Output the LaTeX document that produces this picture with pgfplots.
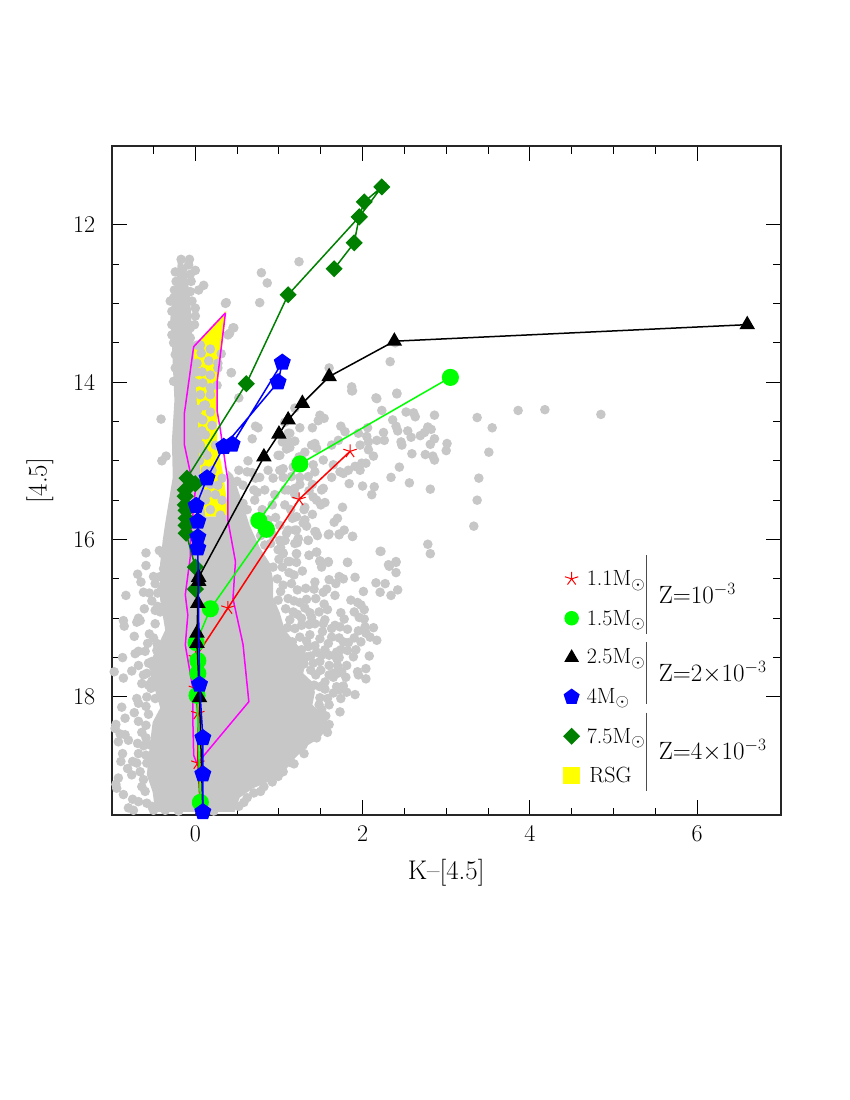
\documentclass[border=0pt]{standalone}
\usepackage{fontspec}
\usepackage{pgfplots}
\pgfplotsset{compat=1.18}
\definecolor{gc}{RGB}{199,199,199}
\definecolor{dg}{RGB}{0,128,0}
\definecolor{mag}{RGB}{255,0,255}
\definecolor{yel}{RGB}{255,255,0}
\definecolor{grn}{RGB}{0,255,0}
\definecolor{blu}{RGB}{0,0,255}
\definecolor{rd}{RGB}{255,0,0}
\newcommand{\fs}{\fontsize{22}{26}\selectfont}
\newcommand{\fz}{\fontsize{25}{29}\selectfont}
\newcommand{\ft}{\fontsize{24}{28}\selectfont\addfontfeatures{LetterSpace=3}}
\newcommand{\fl}{\fontsize{27}{31}\selectfont\addfontfeatures{LetterSpace=13}}
\DeclareMathSizes{22}{22}{16}{12}
\DeclareMathSizes{25}{25}{18}{13}
\pgfplotstableread{
x y
1.88 14.11
2.17 14.21
2.41 14.14
2.23 14.36
2.52 14.38
2.61 14.39
2.63 14.44
2.86 14.42
3.37 14.45
3.86 14.36
4.18 14.35
4.85 14.41
3.55 14.58
2.36 14.48
2.40 14.56
2.42 14.62
2.54 14.62
2.58 14.70
2.69 14.68
2.74 14.64
2.78 14.57
2.82 14.60
2.86 14.72
2.81 14.79
3.01 14.78
3.00 14.87
3.51 14.89
2.59 14.91
2.75 14.92
2.84 14.94
2.86 14.99
2.44 15.08
2.34 15.21
2.56 15.28
3.39 15.22
2.81 15.36
3.37 15.50
3.33 15.83
2.78 16.06
2.81 16.18
2.22 16.15
2.40 16.28
2.31 16.32
1.82 16.29
2.14 15.33
2.11 15.43
2.00 15.32
1.84 15.29
1.76 15.59
1.70 15.73
1.66 15.78
1.88 15.96
1.78 15.88
1.72 15.93
1.60 15.93
1.46 15.95
1.43 15.90
1.35 16.01
1.45 16.16
1.36 16.20
1.49 14.42
1.54 14.46
1.47 14.49
1.25 14.58
1.40 14.58
1.74 14.56
1.79 14.63
1.13 14.65
1.19 14.75
2.06 14.58
1.95 14.65
2.05 14.69
2.07 14.76
2.17 14.74
2.25 14.64
2.26 14.74
2.46 14.76
2.47 14.80
1.43 14.78
1.39 14.80
1.45 14.84
1.63 14.80
1.71 14.74
1.97 14.80
2.07 14.86
2.13 14.94
1.53 14.99
1.31 14.89
1.99 15.03
2.04 15.03
1.91 15.07
1.97 15.12
1.83 15.12
1.77 15.16
1.73 15.14
1.63 15.21
1.65 15.05
1.41 15.05
1.43 15.14
1.25 15.21
1.53 15.35
1.51 15.37
1.41 15.46
1.45 15.50
1.55 15.53
1.50 15.56
1.31 15.59
1.21 15.71
1.29 15.79
1.33 15.83
1.21 15.88
1.11 15.88
1.23 15.99
1.19 16.05
1.07 16.01
1.21 16.18
1.05 16.17
1.13 16.28
1.49 16.27
1.59 16.28
1.09 14.85
1.13 14.83
1.01 14.93
1.05 15.10
1.19 15.35
1.11 15.37
1.35 16.01
1.44 15.90
1.59 15.94
1.72 15.94
1.88 15.96
2.21 16.15
1.36 16.20
1.45 16.16
1.49 16.28
1.59 16.29
1.51 16.35
1.82 16.29
2.32 16.34
2.40 16.29
2.40 16.42
1.43 16.54
1.60 16.51
1.68 16.56
1.72 16.47
1.77 16.50
1.91 16.48
2.16 16.55
2.27 16.56
2.21 16.67
2.34 16.71
2.42 16.64
2.01 16.66
1.67 16.71
1.57 16.63
1.53 16.67
1.44 16.75
1.33 16.76
1.25 16.80
1.31 16.87
1.54 16.82
1.58 16.89
1.48 16.92
1.37 16.93
1.86 16.77
1.94 16.80
1.98 16.83
2.02 16.89
1.90 16.92
1.74 16.93
1.78 17.01
1.96 16.99
2.02 17.01
1.55 17.02
1.39 16.99
1.43 17.07
1.27 17.00
1.17 16.92
1.13 17.02
1.27 17.09
1.67 17.09
1.63 17.13
1.73 17.11
1.82 17.14
1.53 17.07
1.52 17.17
2.03 17.11
2.13 17.12
1.95 17.16
2.04 17.19
2.09 17.24
2.17 17.28
1.63 17.24
1.37 17.21
1.77 17.30
1.83 17.31
1.49 17.26
1.59 17.32
1.82 17.41
1.69 17.43
1.69 17.51
1.89 17.49
2.08 17.48
1.60 17.60
1.70 17.60
1.81 17.60
2.04 17.64
1.94 17.68
1.65 17.70
1.35 17.36
1.45 17.43
1.51 17.47
1.33 17.49
1.25 17.53
1.41 17.57
1.49 17.55
1.05 17.26
1.19 17.13
1.25 17.24
1.15 16.56
1.05 16.58
1.21 16.18
1.04 16.35
1.11 16.28
1.21 16.29
1.22 16.64
1.11 16.75
0.99 16.77
1.09 15.92
1.23 15.99
1.22 16.04
1.07 16.01
1.01 16.01
1.05 16.18
0.93 16.35
1.65 17.75
2.04 17.77
1.95 17.72
1.69 17.87
1.77 17.86
1.72 17.91
1.81 17.94
1.91 17.97
1.74 18.02
1.49 17.87
1.55 17.81
1.58 18.02
1.49 18.01
1.60 18.10
1.73 18.19
1.56 18.24
1.51 18.16
1.60 18.35
1.58 18.45
1.45 18.52
1.47 18.31
0.82 19.14
0.62 19.28
1.13 18.83
0.99 19.01
1.29 18.61
-0.33 16.01
-0.59 16.17
-0.43 16.14
-0.39 16.18
-0.59 16.33
-0.69 16.44
-0.65 16.54
-0.50 16.47
-0.42 16.47
-0.48 16.56
-0.36 16.30
-0.38 16.37
-0.83 16.71
-0.62 16.67
-0.55 16.68
-0.45 16.68
-0.61 16.88
-0.48 16.90
-0.86 17.03
-0.85 17.10
-0.68 17.00
-0.66 17.03
-0.70 17.05
-0.48 17.07
-0.73 17.23
-0.57 17.32
-0.46 17.32
-0.68 17.42
-0.72 17.45
-0.46 17.41
-0.87 17.50
-0.68 17.60
-0.97 17.68
-0.76 17.67
-0.56 17.57
-0.52 17.55
-0.50 17.62
-0.42 17.47
-0.86 17.76
-0.64 17.83
-0.56 17.85
-0.53 17.89
-0.70 18.02
-0.68 18.08
-0.58 18.00
-0.88 18.13
-0.73 18.20
-0.59 18.12
-0.84 18.27
-0.68 18.31
-0.59 18.36
-0.95 18.35
-0.96 18.40
-0.90 18.47
-0.84 18.48
-0.92 18.57
-0.80 18.55
-0.69 18.59
-0.59 18.52
-0.54 18.61
-0.87 18.72
-0.89 18.82
-0.75 18.82
-0.70 18.84
-0.59 18.74
-0.58 18.84
-0.81 18.91
-0.76 18.99
-0.92 19.03
-0.95 19.11
-0.94 19.16
-0.86 19.24
-0.64 19.14
-0.60 19.20
-0.75 19.30
-0.68 19.33
-0.80 19.41
-0.74 19.44
-0.50 19.44
-0.52 19.39
-0.36 19.44
-0.20 19.45
-0.26 19.37
0.16 19.41
0.22 19.45
0.26 19.29
0.40 19.35
0.52 19.39
0.50 19.20
-0.17 12.44
-0.07 12.44
-0.08 12.51
0.00 12.58
-0.24 12.60
-0.15 12.57
-0.06 12.63
-0.05 12.72
-0.23 12.72
-0.16 12.76
-0.25 12.83
0.10 12.77
0.04 12.83
-0.06 12.85
-0.30 12.97
-0.26 12.93
-0.04 12.97
0.00 13.06
0.00 13.16
-0.01 13.27
-0.06 13.31
-0.28 13.10
-0.28 13.27
-0.28 13.40
-0.06 13.44
-0.26 13.50
-0.24 13.65
-0.24 13.82
-0.26 13.99
0.36 13.00
0.46 13.31
0.41 13.38
0.43 13.88
0.02 13.53
0.06 13.53
0.18 13.58
0.07 13.63
0.16 13.73
0.02 13.76
0.27 13.76
0.31 13.64
0.27 13.82
0.01 13.87
0.08 13.87
0.18 13.91
0.00 14.01
0.09 14.01
0.18 14.07
0.26 14.04
0.18 14.16
0.06 14.16
0.12 14.29
0.03 14.35
0.18 14.38
0.09 14.48
0.20 14.55
0.12 14.67
0.06 14.80
0.24 14.80
0.14 14.93
0.20 15.12
0.12 15.12
0.27 15.31
0.32 15.22
0.24 15.43
0.12 15.50
0.32 15.50
0.18 15.62
0.30 15.69
0.36 15.75
1.24 12.47
0.79 12.61
0.86 12.74
0.77 12.99
0.37 12.99
0.45 13.31
0.39 13.40
0.43 13.88
0.52 14.20
2.33 13.74
2.39 13.50
1.60 13.82
1.87 14.06
1.87 14.11
2.16 14.20
2.41 14.15
-0.41 14.47
-0.35 14.94
-0.40 15.00
0.72 14.56
0.75 14.58
0.68 14.72
0.63 15.00
0.52 15.12
0.62 15.14
0.68 15.15
0.72 15.22
0.50 15.26
0.57 15.31
0.70 15.37
0.74 15.40
0.47 15.46
0.57 15.54
1.07 14.51
1.19 14.33
1.11 14.65
1.04 14.76
1.13 14.76
1.10 14.84
0.99 14.93
0.87 15.12
1.01 15.12
0.77 15.21
0.93 15.22
1.05 15.21
0.83 15.37
0.95 15.43
1.07 15.37
0.71 15.50
0.80 15.62
0.92 15.56
1.07 15.56
1.19 15.43
0.87 15.75
1.01 15.82
1.16 15.73
0.80 15.88
0.92 15.94
1.07 16.01
1.19 15.88
1.31 15.75
0.99 16.13
0.83 16.07
1.00 16.25
1.12 16.42
0.98 16.50
1.18 16.45
1.28 16.40
1.32 16.62
1.02 16.66
1.18 16.78
1.42 16.63
1.08 16.88
1.22 16.95
1.36 17.08
1.10 17.12
1.33 17.29
1.16 17.30
1.43 17.35
1.55 17.40
1.27 17.40
1.38 17.48
1.60 17.47
1.72 17.50
1.50 17.66
1.60 17.72
1.44 17.72
1.70 17.70
1.38 17.66
1.30 17.58
1.55 17.90
1.42 17.85
1.65 17.95
1.48 18.10
1.42 18.28
1.36 18.38
1.52 18.40
1.40 18.50
1.30 18.72
1.18 18.85
1.05 18.95
0.92 19.08
0.78 19.20
0.70 19.22
0.58 19.34
1.72 17.25
1.90 17.25
1.74 17.40
1.92 17.40
1.98 17.30
1.80 17.75
1.75 17.68
0.62 15.62
0.72 15.75
0.78 15.95
0.90 16.05
1.02 16.10
0.96 15.72
1.14 15.62
1.30 15.62
1.40 15.68
1.36 15.38
1.25 15.30
1.15 15.20
1.17 15.08
1.28 15.05
1.35 15.20
1.40 15.30
1.24 14.95
-0.45 16.85
-0.52 16.78
-0.42 16.92
-0.55 17.20
-0.50 17.25
-0.60 17.42
-0.58 17.70
-0.62 17.72
-0.52 17.80
-0.48 18.02
-0.56 18.22
-0.64 18.45
-0.62 18.62
-0.68 18.72
-0.66 18.95
-0.62 19.05
-0.58 19.35
-0.45 19.40
-0.40 19.30
0.05 19.45
0.35 19.25
-0.35 16.65
-0.33 16.75
-0.40 16.62
0.10 14.30
0.04 14.45
0.08 14.62
0.03 14.72
0.10 14.88
0.05 15.00
0.10 15.28
0.18 15.30
0.14 15.42
0.06 15.38
}\graydots
\begin{document}
\begin{tikzpicture}
\path[use as bounding box] (0,0) rectangle (850pt,1100pt);
\begin{axis}[
  at={(111.7pt,285pt)}, anchor=south west,
  scale only axis, width=669pt, height=669pt,
  xmin=-1, xmax=7, ymin=11, ymax=19.5, y dir=reverse,
  xtick={0,2,4,6}, ytick={12,14,16,18},
  minor x tick num=3, minor y tick num=3,
  extra x ticks={-0.5}, extra x tick labels={},
  extra x tick style={major tick length=7.5pt},
  tick align=inside, xtick pos=both, ytick pos=both,
  major tick length=15pt, minor tick length=7.5pt,
  tick style={black,line width=1pt},
  axis line style={line width=1.6pt,black!85},
  /pgf/number format/assume math mode=true,
  tick label style={font=\ft},
  xticklabel style={yshift=-7pt},
  yticklabel style={xshift=-13pt},
  xlabel={K--[4.5]}, ylabel={[4.5]},
  label style={font=\fl},
  xlabel style={yshift=-11pt},
  ylabel style={yshift=13pt},
  clip=false, clip mode=individual,
  every axis plot/.append style={line width=1.5pt},
]
% RSG area
\addplot[fill=yel,draw=yel] coordinates {(0.36,13.12)(-0.02,13.55)(0.02,14.5)(0.10,15.7)(0.39,15.7)(0.33,15.2)(0.25,14.77)(0.26,14.0)} -- cycle;
% dense part of the cloud
\addplot[fill=gc,draw=none] coordinates {
(-0.21,12.47)(-0.23,12.77)(-0.28,12.96)(-0.30,13.21)(-0.28,13.53)(-0.25,14.23)(-0.28,14.74)(-0.27,15.21)(-0.36,15.79)(-0.39,16.01)(-0.42,16.30)(-0.42,16.77)(-0.36,17.15)(-0.51,17.49)(-0.54,17.70)(-0.42,18.14)(-0.51,18.32)(-0.54,18.57)(-0.58,18.99)(-0.51,19.21)(-0.48,19.46)(0.47,19.46)(0.53,19.28)(0.69,19.16)(0.98,19.03)(1.10,18.90)(1.19,18.78)(1.35,18.61)(1.49,18.52)(1.61,18.35)(1.53,18.23)(1.40,18.10)(1.43,17.94)(1.40,17.81)(1.29,17.70)(1.34,17.49)(1.07,17.15)(1.01,16.93)(0.93,16.73)(0.93,16.51)(0.89,16.30)(0.77,16.10)(0.65,15.82)(0.57,15.56)(0.53,15.43)(0.45,15.18)(0.39,15.12)(0.39,15.71)(0.12,15.71)(0.06,15.24)(0.03,14.48)(-0.02,13.59)(-0.04,13.34)(-0.06,12.96)(-0.09,12.70)(-0.15,12.47)} -- cycle;
\addplot[only marks,mark=*,mark size=4pt,gc,mark options={draw=gc,fill=gc}] table {\graydots};
% magenta outline
\addplot[mag,no marks] coordinates {(0.36,13.12)(-0.02,13.55)(-0.13,14.39)(-0.13,14.80)(-0.06,15.15)(0.00,15.37)(-0.06,16.01)(-0.06,16.22)(-0.12,16.70)(-0.09,16.96)(-0.12,17.34)(-0.03,17.89)(-0.03,18.27)(-0.02,18.74)(0.02,18.85)(0.64,18.06)(0.57,17.33)(0.45,16.75)(0.48,16.28)(0.39,15.76)(0.39,15.25)(0.37,15.12)(0.30,14.61)(0.26,14.36)(0.26,14.0)(0.36,13.12)};
% 7.5 Msun
\addplot[dg,mark=square*,mark size=5.3pt,mark options={rotate=45,fill=dg,draw=dg}] coordinates {(1.66,12.56)(1.90,12.23)(1.96,11.90)(2.02,11.71)(2.23,11.52)(1.96,11.90)(1.11,12.89)(0.61,14.02)(-0.10,15.22)(0.00,15.29)(-0.12,15.37)(-0.12,15.45)(-0.12,15.56)(-0.11,15.63)(-0.11,15.73)(-0.11,15.82)(-0.11,15.92)(0.00,16.35)(0.00,16.63)};
% 1.1 Msun
\addplot[rd,mark=star,mark size=7pt,mark options={rd,line width=1pt}] coordinates {(1.85,14.88)(1.24,15.49)(0.39,16.87)(0.00,17.50)(0.00,17.89)(0.03,18.21)(0.03,18.84)(0.06,19.40)};
% 1.5 Msun
\addplot[grn,mark=*,mark size=7.8pt,mark options={fill=grn,draw=grn}] coordinates {(3.05,13.94)(1.25,15.04)(0.76,15.76)(0.85,15.87)(0.18,16.88)(0.01,17.31)(0.03,17.54)(0.03,17.70)(0.02,17.98)(0.06,19.34)};
% 2.5 Msun
\addplot[black,mark=triangle*,mark size=7.5pt,mark options={fill=black,draw=black}] coordinates {(6.60,13.27)(2.38,13.48)(1.60,13.93)(1.28,14.27)(1.11,14.48)(1.00,14.66)(0.82,14.95)(0.04,16.48)(0.04,16.53)(0.03,16.81)(0.02,17.19)(0.02,17.32)(0.05,18.01)};
\addplot[black,no marks] coordinates {(0.05,18.01)(0.09,19.46)};
% 4 Msun
\addplot[blu,mark=pentagon*,mark size=8pt,mark options={fill=blu,draw=blu}] coordinates {(0.44,14.79)(1.04,13.75)(0.99,14.00)(0.34,14.82)(0.14,15.22)(0.01,15.57)(0.03,15.77)(0.03,15.97)(0.03,16.11)(0.05,17.84)(0.09,18.52)(0.09,18.98)(0.09,19.46)};
% key
\addplot[only marks,rd,mark=star,mark size=7pt,mark options={rd,line width=1pt}] coordinates {(4.5,16.5)};
\addplot[only marks,grn,mark=*,mark size=6.5pt,mark options={fill=grn,draw=grn}] coordinates {(4.5,17)};
\addplot[only marks,black,mark=triangle*,mark size=7pt,mark options={fill=black,draw=black}] coordinates {(4.5,17.5)};
\addplot[only marks,blu,mark=pentagon*,mark size=7.5pt,mark options={fill=blu,draw=blu}] coordinates {(4.5,18)};
\addplot[only marks,dg,mark=square*,mark size=5.3pt,mark options={rotate=45,fill=dg,draw=dg}] coordinates {(4.5,18.5)};
\addplot[only marks,yel,mark=square*,mark size=8pt,mark options={fill=yel,draw=yel}] coordinates {(4.5,19)};
\addplot[black!70,no marks,line width=.8pt] coordinates {(5.39,16.20)(5.39,17.20)};
\addplot[black!70,no marks,line width=.8pt] coordinates {(5.39,17.30)(5.39,18.09)};
\addplot[black!70,no marks,line width=.8pt] coordinates {(5.39,18.20)(5.39,19.20)};
\tikzset{lab/.style={anchor=base west,inner sep=0pt,font=\fs}}
\node[lab] at (axis cs:4.68,16.59) {1.1M$_\odot$};
\node[lab] at (axis cs:4.68,17.09) {1.5M$_\odot$};
\node[lab] at (axis cs:4.68,17.58) {2.5M$_\odot$};
\node[lab] at (axis cs:4.68,18.08) {4M$_\odot$};
\node[lab] at (axis cs:4.68,18.59) {7.5M$_\odot$};
\node[lab] at (axis cs:4.71,19.09) {RSG};
\tikzset{zlab/.style={anchor=base west,inner sep=0pt,font=\fz}}
\node[zlab] at (axis cs:5.54,16.81) {Z=10$^{-3}$};
\node[zlab] at (axis cs:5.54,17.80) {Z=2$\times$10$^{-3}$};
\node[zlab] at (axis cs:5.54,18.80) {Z=4$\times$10$^{-3}$};
\end{axis}
\end{tikzpicture}
\end{document}
